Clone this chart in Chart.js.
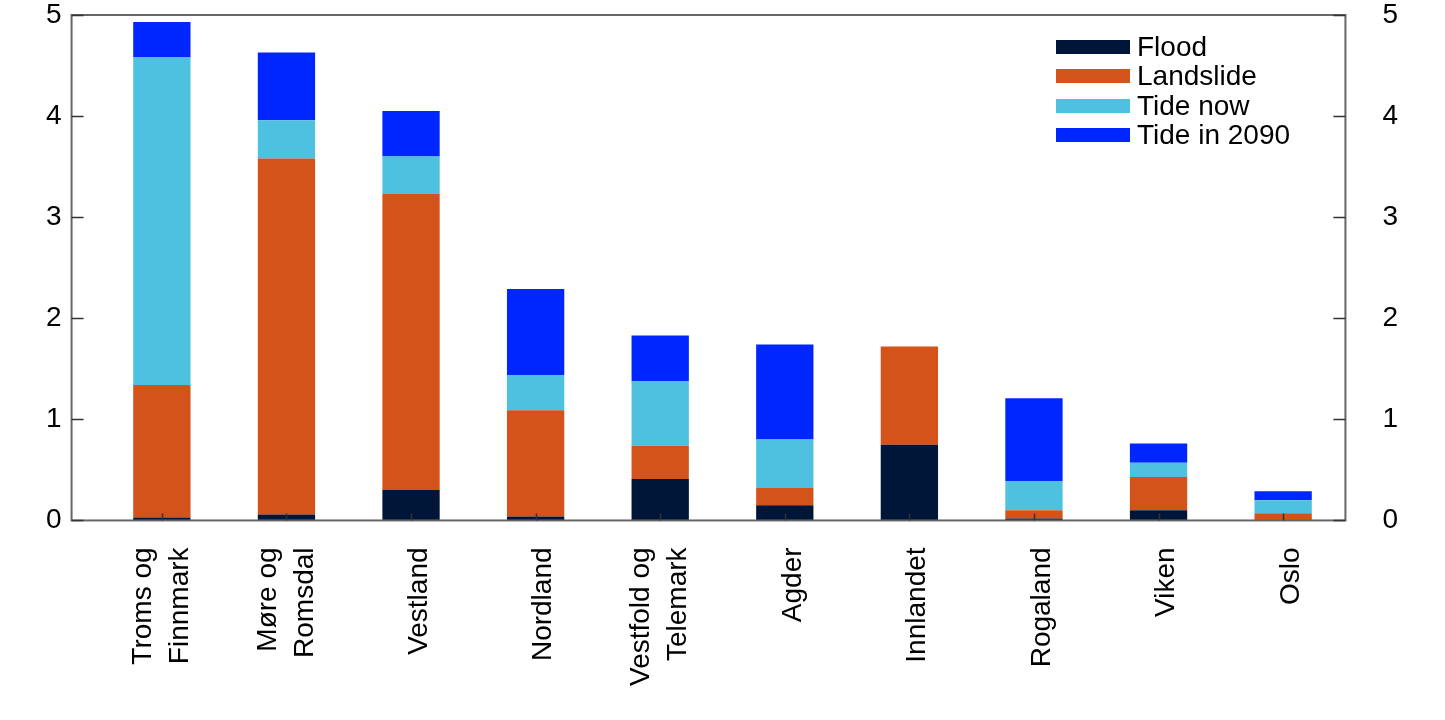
<!DOCTYPE html>
<html lang="en">
<head>
  <meta charset="UTF-8">
  <title>Natural hazard exposure by county</title>
  <style>
    * { box-sizing: border-box; margin:0; padding:0; }
    body { background:#fff; width:1445px; height:720px; overflow:hidden; font-family:"Liberation Sans", Arial, sans-serif; }
    .wrap { position:relative; width:1445px; height:720px; }
    #legend { position:absolute; left:1056px; top:32px; font-size:28px; color:#000; }
    #legend div { display:flex; align-items:center; height:29.5px; }
    #legend span.box { display:inline-block; width:74px; height:14px; margin-right:7px; }
  </style>
  <script src="https://cdn.jsdelivr.net/npm/chart.js"></script>
</head>
<body>
  <div class="wrap">
    <canvas id="chart" width="1445" height="720"></canvas>
    <div id="legend"></div>
  </div>

  <script>
    const regions = [['Troms og','Finnmark'], ['Møre og','Romsdal'], 'Vestland', 'Nordland',
                     ['Vestfold og','Telemark'], 'Agder', 'Innlandet', 'Rogaland', 'Viken', 'Oslo'];
    const flood     = [0.03, 0.06, 0.30, 0.04, 0.41, 0.15, 0.75, 0.02, 0.10, 0.00];
    const landslide = [1.31, 3.52, 2.93, 1.05, 0.33, 0.17, 0.97, 0.08, 0.33, 0.07];
    const tideNow   = [3.24, 0.38, 0.37, 0.35, 0.64, 0.48, 0.00, 0.29, 0.14, 0.13];
    const tide2090  = [0.35, 0.67, 0.45, 0.85, 0.45, 0.94, 0.00, 0.82, 0.19, 0.09];
    const yTicks = [0, 1, 2, 3, 4, 5];

    const EL = id => document.getElementById(id);
    const FONT = '"Liberation Sans", Arial, sans-serif';
    const GAP = 28;       // empty strip between left axis and first category
    const LINE_H = 37;    // line height of the two-line category labels

    const series = [
      { label: 'Flood', data: flood, color: '#001639' },
      { label: 'Landslide', data: landslide, color: '#D4531A' },
      { label: 'Tide now', data: tideNow, color: '#4FC1E0' },
      { label: 'Tide in 2090', data: tide2090, color: '#0026FF' }
    ];

    const frame = {
      id: 'frame',
      // centre the two-line labels on their tick, nudge single ones a bit right
      beforeDraw(c) {
        c.scales.x.getLabelItems(c.chartArea).forEach(it => {
          if (Array.isArray(it.label) && it.label.length > 1) {
            it.textOffset -= LINE_H * (it.label.length - 1) / 2;
          } else {
            it.options.translation[0] += 8;
          }
        });
      },
      afterDraw(c) {
        const { ctx, chartArea: a } = c;
        const y = c.scales.y, x = c.scales.x;
        const left = a.left - GAP;
        ctx.save();
        ctx.strokeStyle = '#666';
        ctx.lineWidth = 2;
        ctx.strokeRect(left, a.top, a.right - left, a.bottom - a.top);
        ctx.strokeStyle = '#333';
        ctx.lineWidth = 1.5;
        ctx.beginPath();
        yTicks.forEach(v => {
          const py = Math.round(y.getPixelForValue(v)) + 0.5;
          ctx.moveTo(left, py); ctx.lineTo(left + 12, py);
          ctx.moveTo(a.right, py); ctx.lineTo(a.right - 12, py);
        });
        regions.forEach((_, i) => {
          const px = Math.round(x.getPixelForValue(i)) + 0.5;
          ctx.moveTo(px, a.bottom); ctx.lineTo(px, a.bottom - 7);
        });
        ctx.stroke();
        ctx.restore();
      }
    };

    const yAxis = pos => ({
      type: 'linear', position: pos, stacked: pos === 'left',
      min: 0, max: 5,
      afterBuildTicks: s => { s.ticks = yTicks.map(v => ({ value: v })); },
      afterFit: s => { s.paddingTop = 0; s.paddingBottom = 0; },
      grid: { display: false, drawTicks: false },
      border: { display: false },
      ticks: { color: '#000', font: { family: FONT, size: 28 }, padding: pos === 'left' ? 10 + GAP : 37 }
    });

    new Chart(EL('chart').getContext('2d'), {
      type: 'bar',
      data: {
        labels: regions,
        datasets: series.map(s => ({
          label: s.label, data: s.data, backgroundColor: s.color,
          borderWidth: 0, barPercentage: 0.46, categoryPercentage: 1
        }))
      },
      options: {
        responsive: false, animation: false,
        layout: { padding: { left: 36 - GAP, right: 10, top: 15, bottom: 7 } },
        plugins: { legend: { display: false }, tooltip: { enabled: false } },
        scales: {
          x: {
            stacked: true,
            grid: { display: false, drawTicks: false },
            border: { display: false },
            ticks: { color: '#000', font: { family: FONT, size: 28, lineHeight: LINE_H / 28 },
                     minRotation: 90, maxRotation: 90, padding: 27, autoSkip: false }
          },
          y: yAxis('left'),
          y2: yAxis('right')
        }
      },
      plugins: [frame]
    });

    EL('legend').innerHTML = series.map(s =>
      `<div><span class="box" style="background:${s.color}"></span>${s.label}</div>`).join('');
  </script>
</body>
</html>
